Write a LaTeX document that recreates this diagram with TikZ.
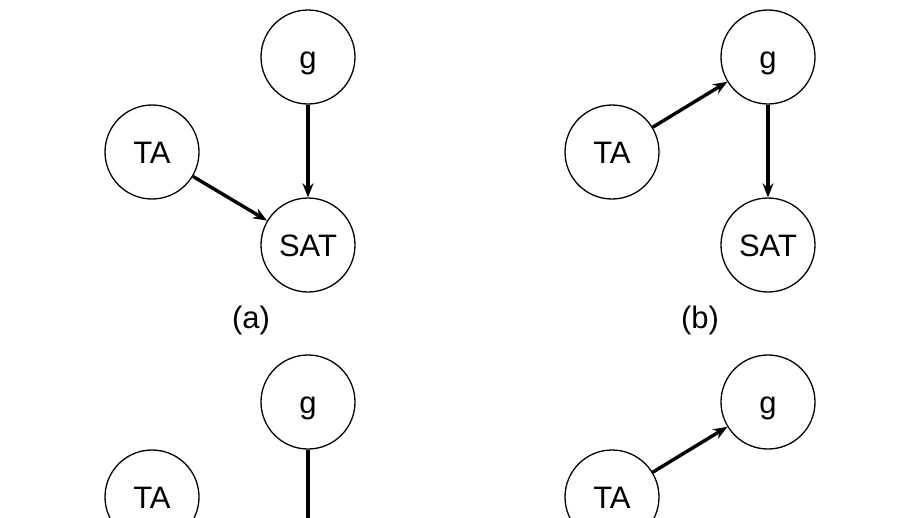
\documentclass[tikz,border=0pt]{standalone}
\usepackage{fontspec}
\setmainfont{Liberation Sans}
\usetikzlibrary{arrows.meta}
\begin{document}
\begin{tikzpicture}[x=1pt,y=1pt,
    var/.style={circle, draw, line width=1.3pt, minimum size=94pt, inner sep=0pt, text height=22pt, text depth=0pt, font=\fontsize{31}{33}\selectfont},
    edge/.style={-{Stealth[length=14pt,width=11pt]}, line width=3.4pt},
    caption/.style={font=\fontsize{31}{33}\selectfont}]
            % Fix the page and cut off the lower panels
            \useasboundingbox (0,0) rectangle (918,-517);
            \clip (0,0) rectangle (918,-517);

            % Panel (a)
            \node[var] (gA) at (308,-57) {g};
            \node[var] (taA) at (152,-152) {TA};
            \node[var] (satA) at (308,-245) {SAT};
            \draw[edge] (gA) -- (satA);
            \draw[edge] (taA) -- (satA);
            \node[caption] (capA) at (251,-320) {(a)};

            % Panel (b)
            \node[var] (gB) at (768,-57) {g};
            \node[var] (taB) at (612,-152) {TA};
            \node[var] (satB) at (768,-245) {SAT};
            \draw[edge] (taB) -- (gB);
            \draw[edge] (gB) -- (satB);
            \node[caption] (capB) at (700,-320) {(b)};

            % Panel (c), cut off at the bottom
            \node[var] (gC) at (308,-402) {g};
            \node[var] (taC) at (152,-497) {TA};
            \coordinate (endC) at (308,-530);
            \draw[line width=3.4pt] (gC) -- (endC);

            % Panel (d), cut off at the bottom
            \node[var] (gD) at (768,-402) {g};
            \node[var] (taD) at (612,-497) {TA};
            \draw[edge] (taD) -- (gD);
        \end{tikzpicture}
\end{document}
